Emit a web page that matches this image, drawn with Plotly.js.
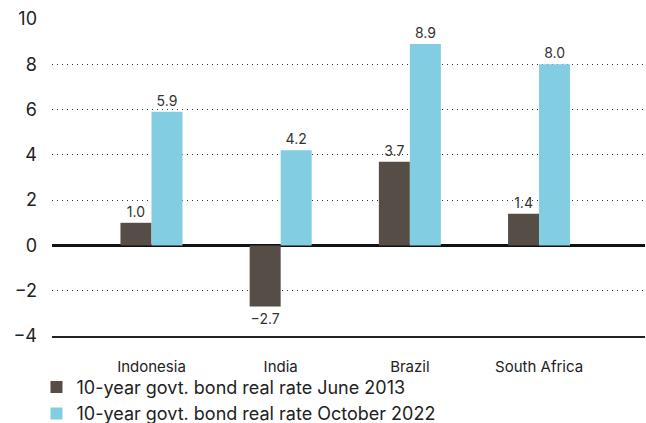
<!DOCTYPE html>
<html>
<head>
<meta charset="utf-8">
<script src="https://cdn.plot.ly/plotly-3.0.1.min.js"></script>
<style>html,body{margin:0;padding:0;background:#fff;}#chart{width:646px;height:423px;}</style>
</head>
<body>
<div id="chart"></div>
<script>
const categories = ["Indonesia", "India", "Brazil", "South Africa"];
const june2013 = [1.0, -2.7, 3.7, 1.4];
const october2022 = [5.9, 4.2, 8.9, 8.0];
const seriesNames = ["10-year govt. bond real rate June 2013", "10-year govt. bond real rate October 2022"];
const yTicks = [-4, -2, 0, 2, 4, 6, 8, 10];

const fmt = v => v.toFixed(1).replace('-', '\u2212');
const FONT = "Inter, Roboto, 'Liberation Sans', sans-serif";

const traces = [
  {type: 'bar', x: categories, y: june2013, name: seriesNames[0],
   marker: {color: '#564d47'}, text: june2013.map(fmt), textposition: 'outside', constraintext: 'none',
   textfont: {size: 14, color: '#333', family: FONT}, cliponaxis: false},
  {type: 'bar', x: categories, y: october2022, name: seriesNames[1],
   marker: {color: '#82cde2'}, text: october2022.map(fmt), textposition: 'outside', constraintext: 'none',
   textfont: {size: 14, color: '#333', family: FONT}, cliponaxis: false}
];

const layout = {
  width: 646, height: 423,
  margin: {l: 52, r: 1, t: 19, b: 87, autoexpand: false},
  paper_bgcolor: '#fff', plot_bgcolor: '#fff',
  font: {family: FONT, color: '#222'},
  barmode: 'group', bargap: 0.52, bargroupgap: 0,
  showlegend: true,
  legend: {xref: 'container', yref: 'container', x: 0.0565, y: 0.128, xanchor: 'left', yanchor: 'top',
           font: {size: 18, color: '#222'}, tracegroupgap: 0, itemwidth: 30, bgcolor: 'rgba(0,0,0,0)'},
  xaxis: {range: [-0.77, 3.82], showgrid: false, showline: true, linecolor: '#222', linewidth: 1.5,
          ticks: '', tickangle: 0, ticklabelstandoff: 16, tickfont: {size: 15, color: '#222'}, fixedrange: true},
  yaxis: {range: [-4, 10], tickvals: yTicks, showgrid: true, gridcolor: '#333', griddash: '1px,4px', gridwidth: 1,
          zeroline: true, zerolinecolor: '#111', zerolinewidth: 2.5, showline: false,
          ticks: '', ticklabelstandoff: 14, tickfont: {size: 18, color: '#222'}, fixedrange: true}
};

Plotly.newPlot('chart', traces, layout, {displayModeBar: false, staticPlot: true});
</script>
</body>
</html>
